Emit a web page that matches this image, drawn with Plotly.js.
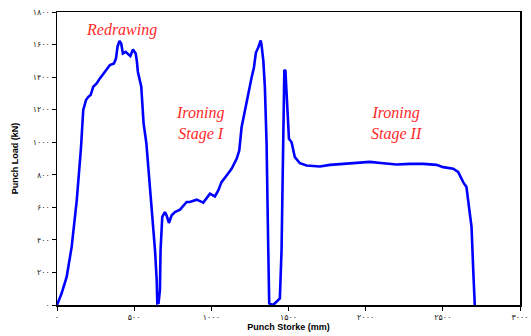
<!DOCTYPE html>
<html><head><meta charset="utf-8">
<script src="https://cdn.plot.ly/plotly-3.0.1.min.js"></script>
<style>html,body{margin:0;padding:0;background:#fff}#c{width:531px;height:336px}</style>
</head><body><div id="c"></div>
<script>
const stroke = [0,30,63,95,128,155,170,188,203,218,235,257,278,300,322,343,369,382,392,405,416,427,445,459,475,492,510,518,524,546,561,579,598,613,635,646,650,658,667,671,682,699,710,725,743,764,797,840,861,905,948,991,1023,1045,1066,1099,1131,1164,1181,1196,1224,1239,1261,1276,1289,1304,1320,1326,1337,1347,1358,1369,1375,1401,1444,1455,1466,1473,1480,1491,1503,1520,1541,1574,1617,1703,1768,1855,1941,2027,2114,2200,2286,2373,2459,2502,2567,2599,2632,2653,2675,2686,2697,2707];
const load = [0,72,174,357,643,960,1198,1259,1279,1290,1341,1361,1392,1422,1453,1474,1484,1514,1586,1622,1606,1545,1555,1545,1529,1570,1545,1494,1433,1341,1116,994,786,582,337,153,10,12,92,337,541,571,551,504,551,571,586,633,633,647,629,684,667,704,755,796,837,898,949,1092,1234,1286,1398,1459,1551,1582,1625,1592,1500,1337,990,337,10,0,41,337,949,1443,1439,1234,1021,1000,908,871,857,851,861,867,873,879,871,863,867,867,861,847,837,817,755,725,561,480,214,0];
const xTicks = [0,500,1000,1500,2000,2500,3000];
const xTickText = ['۰','۵۰۰','۱۰۰۰','۱۵۰۰','۲۰۰۰','۲۵۰۰','۳۰۰۰'];
const yTicks = [0,200,400,600,800,1000,1200,1400,1600,1800];
const yTickText = ['۰','۲۰۰','۴۰۰','۶۰۰','۸۰۰','۱۰۰۰','۱۲۰۰','۱۴۰۰','۱۶۰۰','۱۸۰۰'];
const labels = [
  {text:'Redrawing', x:415, y:1690},
  {text:'Ironing<br>Stage I', x:925, y:1115},
  {text:'Ironing<br>Stage II', x:2200, y:1115}
];

const tickFont = {family:'DejaVu Sans, sans-serif', size:8, color:'#222'};
Plotly.newPlot('c', [{
  x: stroke, y: load, type:'scatter', mode:'lines',
  line:{color:'#0000ff', width:2.6}, hoverinfo:'skip'
}], {
  width:531, height:336,
  margin:{l:57, r:11, t:12, b:30.5, pad:0},
  paper_bgcolor:'#fff', plot_bgcolor:'#fff',
  showlegend:false,
  xaxis:{range:[0,3000], tickvals:xTicks, ticktext:xTickText, ticks:'outside', ticklen:4, tickcolor:'#000',
    showline:true, linecolor:'#000', linewidth:1.5, mirror:true, showgrid:false, zeroline:false,
    tickfont:tickFont,
    title:{text:'<b>Punch Storke (mm)</b>', font:{family:'Liberation Sans, Arial, sans-serif', size:9, color:'#000'}, standoff:2}},
  yaxis:{range:[0,1800], tickvals:yTicks, ticktext:yTickText, ticks:'outside', ticklen:4, tickcolor:'#000',
    showline:true, linecolor:'#000', linewidth:1.5, mirror:true, showgrid:false, zeroline:false,
    tickfont:tickFont,
    title:{text:'<b>Punch Load (kN)</b>', font:{family:'Liberation Sans, Arial, sans-serif', size:9, color:'#000'}, standoff:12}},
  annotations: labels.map(l => ({text:l.text, x:l.x, y:l.y, xref:'x', yref:'y', showarrow:false,
    font:{family:'Liberation Serif, Times New Roman, serif', size:16, color:'#ff2a2a', style:'italic'}}))
}, {displayModeBar:false, staticPlot:true});
</script></body></html>
